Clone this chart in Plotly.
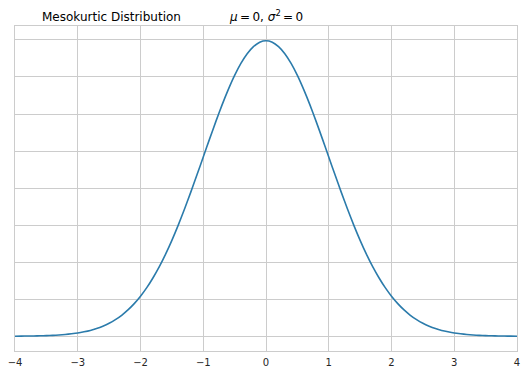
import plotly.graph_objects as go

# density values, right half (x = 0.0 ... 4.0 in steps of 0.1)
x_right = [0.0, 0.1, 0.2, 0.3, 0.4, 0.5, 0.6, 0.7, 0.8, 0.9, 1.0, 1.1, 1.2, 1.3, 1.4, 1.5,
           1.6, 1.7, 1.8, 1.9, 2.0, 2.1, 2.2, 2.3, 2.4, 2.5, 2.6, 2.7, 2.8, 2.9, 3.0, 3.1,
           3.2, 3.3, 3.4, 3.5, 3.6, 3.7, 3.8, 3.9, 4.0]
y_right = [0.3989, 0.3970, 0.3910, 0.3814, 0.3683, 0.3521, 0.3332, 0.3123, 0.2897, 0.2661,
           0.2420, 0.2179, 0.1942, 0.1714, 0.1497, 0.1295, 0.1109, 0.0940, 0.0790, 0.0656,
           0.0540, 0.0440, 0.0355, 0.0283, 0.0224, 0.0175, 0.0136, 0.0104, 0.0079, 0.0060,
           0.0044, 0.0033, 0.0024, 0.0017, 0.0012, 0.0009, 0.0006, 0.0004, 0.0003, 0.0002,
           0.0001]
# the curve is symmetric: left half mirrors the right half
x_vals = [-v for v in x_right[:0:-1]] + x_right
y_vals = y_right[:0:-1] + y_right

x_ticks = [-4, -3, -2, -1, 0, 1, 2, 3, 4]
x_tick_labels = ["\u22124", "\u22123", "\u22122", "\u22121", "0", "1", "2", "3", "4"]
y_grid = [0, 0.05, 0.10, 0.15, 0.20, 0.25, 0.30, 0.35, 0.40]

title_left = "Mesokurtic Distribution"
title_right = "<i>\u03bc</i>\u2009=\u20090, <i>\u03c3</i><sup>2</sup>\u2009=\u20090"

fig = go.Figure()
fig.add_trace(go.Scatter(
    x=x_vals, y=y_vals, mode="lines",
    line=dict(color="#2b7bab", width=1.6, shape="spline", smoothing=0.6),
    hoverinfo="skip", showlegend=False,
))

ML, MR, MT, MB = 15, 10, 26, 21
W, H = 527, 372
font_family = "DejaVu Sans"
fig.update_layout(
    width=W, height=H,
    margin=dict(l=ML, r=MR, t=MT, b=MB, autoexpand=False),
    paper_bgcolor="white", plot_bgcolor="white",
    font=dict(family=font_family, size=10, color="#262626"),
    xaxis=dict(
        range=[-4, 4], tickvals=x_ticks, ticktext=x_tick_labels,
        showgrid=True, gridcolor="#cccccc", gridwidth=1, automargin=False,
        zeroline=False, showline=True, linecolor="#cccccc", linewidth=1, mirror=True,
        ticks="", ticklabelstandoff=2,
    ),
    yaxis=dict(
        range=[-0.0199, 0.4188], tickvals=y_grid, showticklabels=False, automargin=False,
        showgrid=True, gridcolor="#cccccc", gridwidth=1,
        zeroline=False, showline=True, linecolor="#cccccc", linewidth=1, mirror=True,
        ticks="",
    ),
)

plot_w = W - ML - MR
plot_h = H - MT - MB
for text, px, py in [(title_left, 111, 17), (title_right, 266, 16)]:
    fig.add_annotation(
        text=text, xref="paper", yref="paper", showarrow=False,
        x=(px - ML) / plot_w, y=(H - MB - py) / plot_h,
        xanchor="center", yanchor="middle",
        font=dict(family=font_family, size=12, color="black"),
    )

fig.write_html("out.html")
